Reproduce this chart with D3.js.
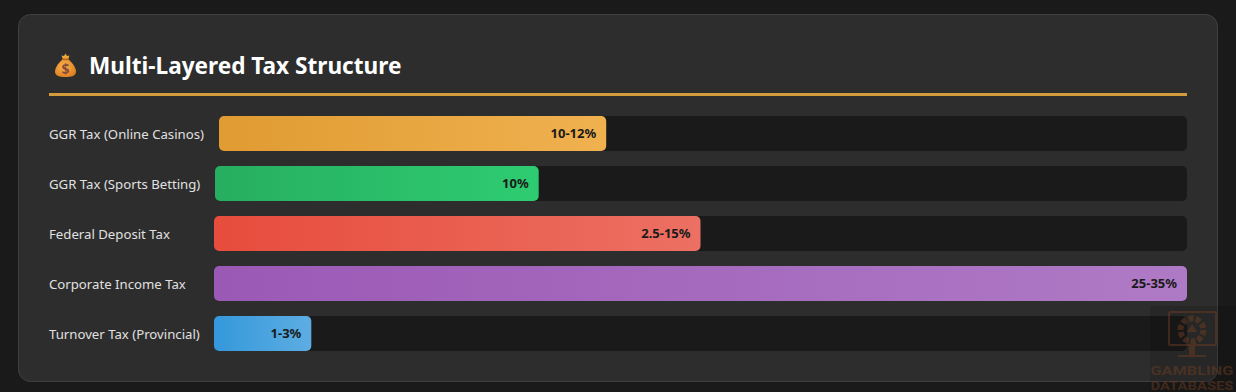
<!DOCTYPE html>
<html>
<head>
<meta charset="utf-8">
<style>
html, body { margin: 0; padding: 0; background: #1a1a1a; overflow: hidden; }
svg { display: block; }
</style>
<script src="https://cdn.jsdelivr.net/npm/d3@7"></script>
</head>
<body>
<svg id="chart" width="1236" height="392"></svg>
<script>
const chartTitle = "Multi-Layered Tax Structure"
const categories = ["GGR Tax (Online Casinos)", "GGR Tax (Sports Betting)", "Federal Deposit Tax", "Corporate Income Tax", "Turnover Tax (Provincial)"]
// bar length as % of the track
const barWidths = [40, 33.3, 50, 100, 10]
const barLabels = ["10-12%", "10%", "2.5-15%", "25-35%", "1-3%"]
const colorsFrom = ["#e09b32", "#27ae60", "#e74c3c", "#9b59b6", "#3498db"]
const colorsTo = ["#f0b14f", "#2ecc71", "#ec7063", "#af7ac5", "#5dade2"]
const watermarkLines = ["GAMBLING", "DATABASES"]

const labelFont = "'Noto Sans', 'Open Sans', sans-serif"
const gold = "#d49b3a"
const left = 49, right = 1187, labelGap = 15, minLabel = 150
const barH = 35, barGap = 15

const svg = d3.select("#chart")
const defs = svg.append("defs")

// card
svg.append("rect")
    .attr("x", 18.5).attr("y", 14.5)
    .attr("width", 1199).attr("height", 367)
    .attr("rx", 12)
    .attr("fill", "#2d2d2d")
    .attr("stroke", "#404040")

// money bag, no emoji font here so it gets drawn
const bag = svg.append("g").attr("transform", "translate(65.5,65.5)")
defs.append("radialGradient").attr("id", "bagFill")
    .attr("cx", "42%").attr("cy", "40%").attr("r", "70%")
    .selectAll("stop").data([["0%", "#f8b44c"], ["100%", "#dc7a1c"]]).enter().append("stop")
    .attr("offset", d => d[0]).attr("stop-color", d => d[1])
bag.append("path")
    .attr("d", "M-3,-6 C-8,-2 -10.5,3 -10.5,6 C-10.5,10.5 -6,11.5 0,11.5 C6,11.5 10.5,10.5 10.5,6 C10.5,3 8,-2 3,-6 Z")
    .attr("fill", "url(#bagFill)")
bag.append("path")
    .attr("d", "M-4,-10 L-1.5,-9.5 L0,-12 L1.5,-9.5 L4,-10 L2.5,-6 L-2.5,-6 Z")
    .attr("fill", "#f0a63c")
bag.append("rect").attr("x", -3.5).attr("y", -7).attr("width", 7).attr("height", 1.6).attr("fill", "#b5651d")
bag.append("text")
    .attr("y", 8)
    .attr("text-anchor", "middle")
    .attr("font-family", labelFont)
    .attr("font-size", 14)
    .attr("font-weight", 700)
    .attr("fill", "#8a4a3a")
    .text("$")

// title
svg.append("text")
    .attr("x", 89).attr("y", 73.5)
    .attr("font-family", labelFont)
    .attr("font-size", 22.6)
    .attr("font-weight", 700)
    .attr("fill", "#ffffff")
    .text(chartTitle)

// rule under the title
svg.append("rect")
    .attr("x", left).attr("y", 93)
    .attr("width", right - left).attr("height", 3)
    .attr("fill", gold)

const y = d3.scaleBand()
    .domain(categories)
    .range([116, 116 + (barH + barGap) * categories.length - barGap])
    .paddingInner(barGap / (barH + barGap))
    .paddingOuter(0)

const rows = svg.selectAll("g.row")
    .data(categories)
    .enter().append("g")
    .attr("class", "row")

rows.each(function(name, i) {
    const row = d3.select(this)
    const top = y(name)
    const h = y.bandwidth()

    const label = row.append("text")
        .attr("x", left)
        .attr("y", top + h / 2 + 0.6)
        .attr("dy", "0.35em")
        .attr("font-family", labelFont)
        .attr("font-size", 13.2)
        .attr("fill", "#e0e0e0")
        .text(name)

    // track starts where the label ends, labels have a min width
    const start = left + Math.max(minLabel, Math.floor(label.node().getComputedTextLength())) + labelGap
    const x = d3.scaleLinear().domain([0, 100]).range([start, right])

    row.append("rect")
        .attr("x", start).attr("y", top)
        .attr("width", right - start).attr("height", h)
        .attr("rx", 5)
        .attr("fill", "#1a1a1a")

    const grad = defs.append("linearGradient").attr("id", "bar" + i)
    grad.append("stop").attr("offset", "0%").attr("stop-color", colorsFrom[i])
    grad.append("stop").attr("offset", "100%").attr("stop-color", colorsTo[i])

    row.append("rect")
        .attr("x", start).attr("y", top)
        .attr("width", x(barWidths[i]) - start).attr("height", h)
        .attr("rx", 5)
        .attr("fill", "url(#bar" + i + ")")

    row.append("text")
        .attr("x", x(barWidths[i]) - 10)
        .attr("y", top + h / 2)
        .attr("dy", "0.35em")
        .attr("text-anchor", "end")
        .attr("font-family", labelFont)
        .attr("font-size", 13)
        .attr("font-weight", 700)
        .attr("fill", "#1a1a1a")
        .text(barLabels[i])
})

// watermark in the corner
const mark = svg.append("g")
const markColor = "#6b3d22"
mark.append("rect")
    .attr("x", 1150).attr("y", 306)
    .attr("width", 86).attr("height", 86)
    .attr("fill", "#000000").attr("opacity", 0.12)
const logo = mark.append("g").attr("opacity", 0.5)
logo.append("rect")
    .attr("x", 1169).attr("y", 312)
    .attr("width", 47).attr("height", 33)
    .attr("rx", 1.5)
    .attr("fill", "none").attr("stroke", markColor).attr("stroke-width", 2)
logo.append("circle")
    .attr("cx", 1192).attr("cy", 330).attr("r", 11.5)
    .attr("fill", "none").attr("stroke", markColor).attr("stroke-width", 6).attr("stroke-dasharray", "5 2.2")
logo.append("path")
    .attr("d", "M1192,324 L1197,332 L1187,332 Z")
    .attr("fill", markColor)
logo.append("rect").attr("x", 1189).attr("y", 345).attr("width", 6).attr("height", 10).attr("fill", markColor)
logo.append("rect").attr("x", 1178).attr("y", 355).attr("width", 28).attr("height", 2).attr("fill", markColor)
watermarkLines.forEach((t, i) => {
    logo.append("text")
        .attr("x", 1150.5).attr("y", 374.5 + i * 15)
        .attr("textLength", 83)
        .attr("lengthAdjust", "spacingAndGlyphs")
        .attr("font-family", "Roboto, sans-serif")
        .attr("font-size", 13)
        .attr("font-weight", 700)
        .attr("fill", markColor)
        .text(t)
})
</script>
</body>
</html>
